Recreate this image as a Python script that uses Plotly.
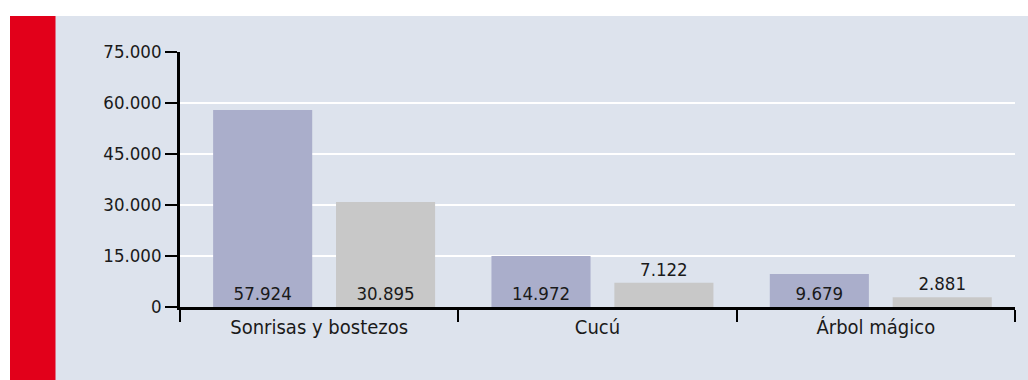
import plotly.graph_objects as go

categories = ["Sonrisas y bostezos", "Cucú", "Árbol mágico"]
series_a = [57924, 14972, 9679]
series_b = [30895, 7122, 2881]
pos_a = ["inside", "inside", "inside"]
pos_b = ["inside", "outside", "outside"]
y_ticks = [0, 15000, 30000, 45000, 60000, 75000]

FONT = "DejaVu Sans Condensed, Liberation Sans Narrow, sans-serif"
FS = 18.5
FS_CAT = 20
W, H = 1028, 380
ML, MR, MT, MB = 180, 13, 52, 73
pw, ph = W - ML - MR, H - MT - MB

def px_x(x):
    return (x - ML) / pw

def px_y(y):
    return 1 - (y - MT) / ph

BAR_W = 0.356
fig = go.Figure()
fig.add_bar(x=categories, y=series_a, marker_color="#aaaecb", marker_line_width=0,
            width=BAR_W, offset=-0.381,
            texttemplate="%{y:,d}", textposition=pos_a, insidetextanchor="start",
            constraintext="none", cliponaxis=False,
            textfont=dict(family=FONT, size=FS, color="#1a1a1a"))
fig.add_bar(x=categories, y=series_b, marker_color="#c8c8c8", marker_line_width=0,
            width=BAR_W, offset=0.0605,
            texttemplate="%{y:,d}", textposition=pos_b, insidetextanchor="start",
            constraintext="none", cliponaxis=False,
            textfont=dict(family=FONT, size=FS, color="#1a1a1a"))

fig.update_layout(
    width=W, height=H,
    margin=dict(l=ML, r=MR, t=MT, b=MB, pad=0),
    paper_bgcolor="white", plot_bgcolor="rgba(0,0,0,0)",
    barmode="overlay",
    separators=",.",
    showlegend=False,
    font=dict(family=FONT, size=FS, color="#1a1a1a"),
    shapes=[
        dict(type="rect", xref="paper", yref="paper", layer="below",
             x0=px_x(10), x1=px_x(W), y0=px_y(H), y1=px_y(16),
             fillcolor="#dde3ed", line_width=0),
        dict(type="rect", xref="paper", yref="paper", layer="below",
             x0=px_x(10), x1=px_x(55.5), y0=px_y(H), y1=px_y(16),
             fillcolor="#e2001a", line_width=0),
    ],
)
fig.update_xaxes(type="category", showline=True, linecolor="black", linewidth=2.5,
                 ticks="outside", tickson="boundaries", ticklen=12, tickwidth=1.5,
                 tickcolor="black", showgrid=False,
                 tickfont=dict(family=FONT, size=FS_CAT, color="#1a1a1a"))
fig.update_yaxes(range=[0, 75000], tickvals=y_ticks, tickformat=",d",
                 showline=True, linecolor="black", linewidth=2.5,
                 ticks="outside", ticklen=12, tickwidth=1.5, tickcolor="black",
                 showgrid=True, gridcolor="white", gridwidth=1.5, zeroline=False,
                 tickfont=dict(family=FONT, size=FS, color="#1a1a1a"))

fig.write_html("out.html")
